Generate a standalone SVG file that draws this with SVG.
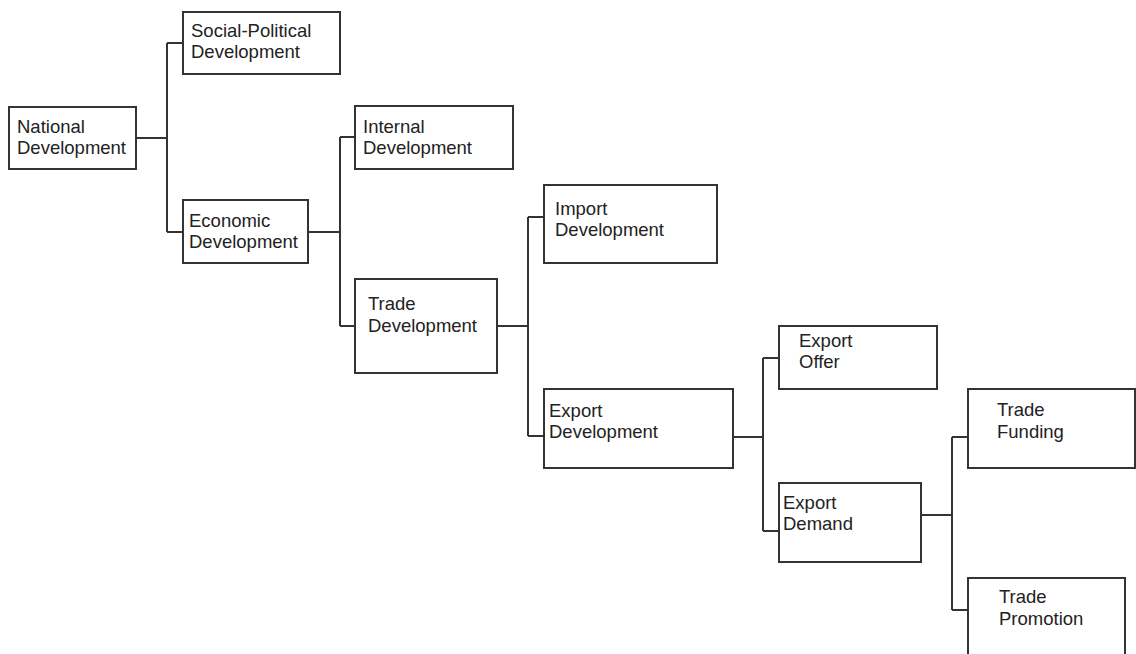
<svg xmlns="http://www.w3.org/2000/svg" width="1136" height="654" viewBox="0 0 1136 654">
<style>
.box{fill:#fff;stroke:#333;stroke-width:2}
.con{fill:none;stroke:#333;stroke-width:2}
text{font-family:"Liberation Sans",Arial,sans-serif;font-size:18.5px;fill:#222}
</style>
<rect width="1136" height="654" fill="#fff"/>
<g id="connectors">
<path class="con" d="M136,138H167M167,43V232M167,43H183M167,232H183"/>
<path class="con" d="M308,232H340M340,137V326M340,137H355M340,326H355"/>
<path class="con" d="M497,326H528M528,217V436M528,217H544M528,436H544"/>
<path class="con" d="M733,437H763M763,358V531M763,358H779M763,531H779"/>
<path class="con" d="M921,515H952M952,437V610M952,437H968M952,610H968"/>
</g>
<g id="national"><rect class="box" x="9" y="107" width="127" height="62"/><text x="17" y="133">National</text><text x="17" y="154">Development</text></g>
<g id="social"><rect class="box" x="183" y="12" width="157" height="62"/><text x="191" y="37">Social-Political</text><text x="191" y="58">Development</text></g>
<g id="economic"><rect class="box" x="183" y="200" width="125" height="63"/><text x="189" y="227">Economic</text><text x="189" y="248">Development</text></g>
<g id="internal"><rect class="box" x="355" y="106" width="158" height="63"/><text x="363" y="133">Internal</text><text x="363" y="154">Development</text></g>
<g id="trade"><rect class="box" x="355" y="279" width="142" height="94"/><text x="368" y="310">Trade</text><text x="368" y="332">Development</text></g>
<g id="import"><rect class="box" x="544" y="185" width="173" height="78"/><text x="555" y="215">Import</text><text x="555" y="236">Development</text></g>
<g id="exportdev"><rect class="box" x="544" y="389" width="189" height="79"/><text x="549" y="417">Export</text><text x="549" y="438">Development</text></g>
<g id="exportoffer"><rect class="box" x="779" y="326" width="158" height="63"/><text x="799" y="347">Export</text><text x="799" y="368">Offer</text></g>
<g id="exportdemand"><rect class="box" x="779" y="483" width="142" height="79"/><text x="783" y="509">Export</text><text x="783" y="530">Demand</text></g>
<g id="tradefunding"><rect class="box" x="968" y="389" width="167" height="79"/><text x="997" y="416">Trade</text><text x="997" y="438">Funding</text></g>
<g id="tradepromotion"><rect class="box" x="968" y="578" width="157" height="90"/><text x="999" y="603">Trade</text><text x="999" y="625">Promotion</text></g>
</svg>
